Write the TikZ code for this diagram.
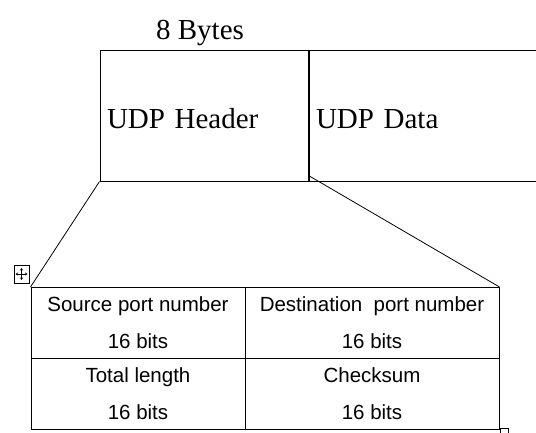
\documentclass[tikz,border=0pt]{standalone}
\usepackage{fontspec}
\setmainfont{Liberation Serif}
\newfontfamily\fieldfont{Liberation Sans}
\usetikzlibrary{arrows.meta, positioning}
\begin{document}
\begin{tikzpicture}[
    x=1pt, y=-1pt,
    box/.style={draw, line width=1pt, inner sep=7pt, minimum height=131pt,
      text height=25pt, text depth=0pt,
      font=\fontsize{29}{34}\selectfont, align=left},
    fld/.style={draw, line width=1pt, inner sep=0pt, minimum height=71pt,
      align=center, font=\fieldfont\fontsize{20.5}{37}\selectfont},
    link/.style={line width=0.8pt},
  ]
  \useasboundingbox (0,0) rectangle (536,432);
  % datagram: header + data
  \node[box, text width=194pt] (hdr) at (204,115.5) {UDP Header};
  \node[box, text width=218pt, anchor=west] (dat) at (hdr.east) {UDP Data};
  \node[font=\fontsize{29}{34}\selectfont, anchor=base] (size) at (200,39) {8 Bytes};
  % header fields
  \foreach \nm/\x/\y/\w/\txt in {
      f1/138/323/214/{Source port number\\16 bits},
      f2/372/323/254/{Destination\ \ port number\\16 bits},
      f3/138/393.5/214/{Total length\\16 bits},
      f4/372/393.5/254/{Checksum\\16 bits}}
    \node[fld, minimum width=\w pt] (\nm) at (\x,\y) {\txt};
  % expansion lines
  \draw[link] (hdr.south west) -- (f1.north west);
  \draw[link] ([yshift=6pt]hdr.south east) -- (f2.north east);
  % table handles
  \node[draw, line width=0.7pt, minimum width=15pt, minimum height=18pt,
    inner sep=0pt] (grip) at (21.5,274) {};
  \foreach \d in {0,90,180,270}
    \draw[line width=0.6pt, -{Stealth[length=2.5pt,width=3pt]}]
      (grip.center) -- ++(\d:6pt);
  \node[draw, line width=0.7pt, minimum size=8pt, inner sep=0pt,
    anchor=north west] (corner) at (500,428) {};
\end{tikzpicture}
\end{document}
